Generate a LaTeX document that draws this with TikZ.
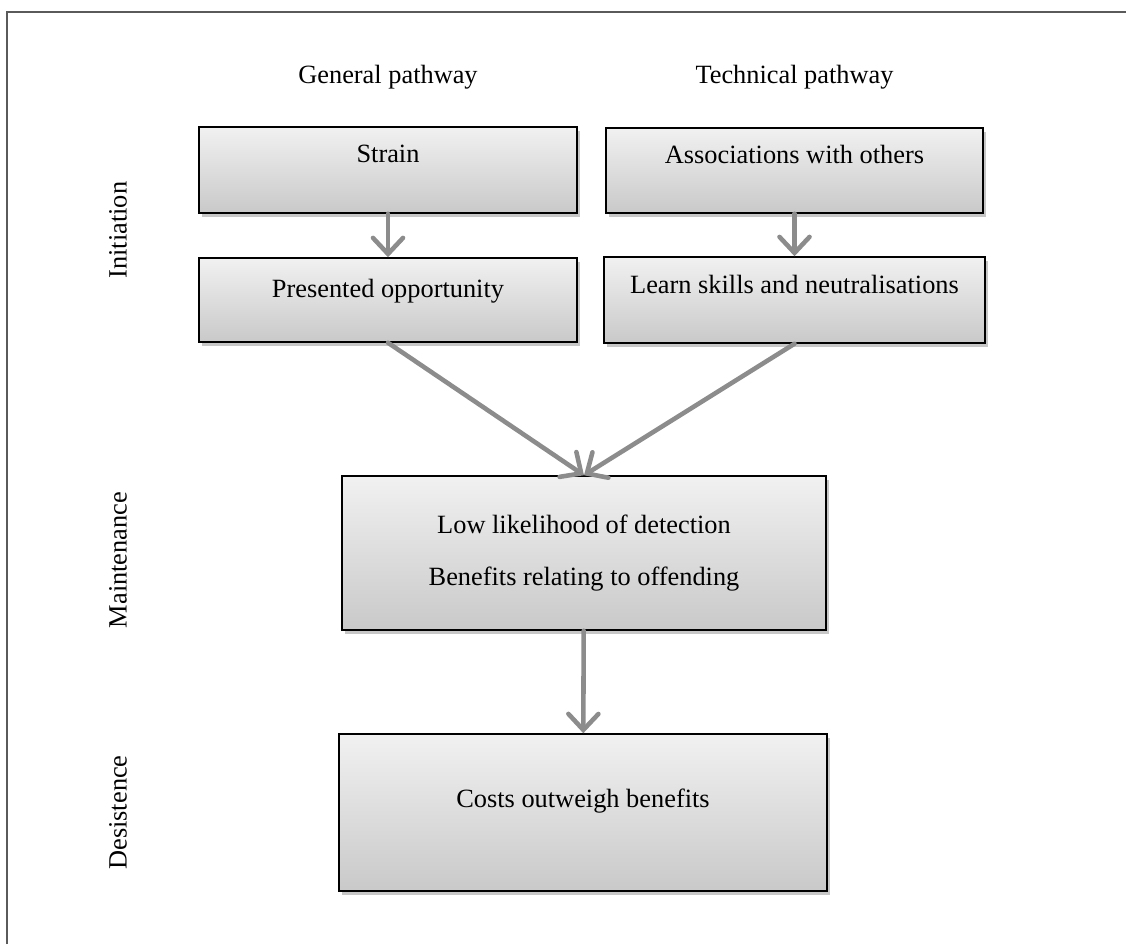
\documentclass[tikz,border=0pt]{standalone}
\usepackage{fontspec}
\setmainfont{Liberation Serif}
\usetikzlibrary{arrows.meta,shadows}
\definecolor{boxtop}{HTML}{F1F1F1}
\definecolor{boxbot}{HTML}{C9C9C9}
\definecolor{arrowgray}{HTML}{8C8C8C}
\definecolor{framegray}{HTML}{5A5A5A}
\begin{document}
\begin{tikzpicture}[
  bx/.style={draw=black,line width=0.85pt,top color=boxtop,bottom color=boxbot,
    drop shadow={shadow xshift=1.6pt,shadow yshift=-2pt,fill=black,opacity=0.22},
    align=center,inner sep=0pt,text height=0.4cm,text depth=#1,
    font=\fontsize{15}{18}\selectfont},
  bx/.default=0.66cm,
  hd/.style={anchor=base,font=\fontsize{15}{18}\selectfont},
  stage/.style={rotate=90,font=\fontsize{15}{18}\selectfont},
  a/.style={-{Straight Barb[length=3.2mm,width=6mm,line cap=round]},line width=2.6pt,
    arrowgray,line cap=round}]
\useasboundingbox (0,0) rectangle (22.52,-18.88);
\draw[framegray,line width=0.045cm] (0.14,-18.88) |- (22.52,-0.24);
\node[hd] (gen) at (7.76,-1.68) {General pathway};
\node[hd] (tech) at (15.89,-1.68) {Technical pathway};
\node[stage] (init) at (2.36,-4.60) {Initiation};
\node[stage] (main) at (2.36,-11.20) {Maintenance};
\node[stage] (desi) at (2.36,-16.25) {Desistence};
\node[bx=0.68cm,minimum width=7.56cm,minimum height=1.72cm] (strain) at (7.76,-3.40) {Strain};
\node[bx=0.52cm,minimum width=7.56cm,minimum height=1.68cm] (opp) at (7.76,-6.00) {Presented opportunity};
\node[bx=0.70cm,minimum width=7.54cm,minimum height=1.70cm] (assoc) at (15.89,-3.41) {Associations with others};
\node[bx=0.68cm,minimum width=7.62cm,minimum height=1.72cm] (learn) at (15.89,-6.00) {Learn skills and neutralisations};
\node[bx,text height={},text depth={},minimum width=9.68cm,minimum height=3.08cm] (lowdet) at (11.68,-11.06)
  {Low likelihood of detection\\[0.4cm]Benefits relating to offending};
\node[bx=0.62cm,minimum width=9.76cm,minimum height=3.14cm] (costs) at (11.66,-16.25) {Costs outweigh benefits};
\draw[a] (strain)--(opp); \draw[a] (assoc)--(learn);
\draw[a] (opp.south)--(lowdet.north); \draw[a] (learn.south)--(lowdet.north);
\draw[a] (lowdet)--(costs);
\end{tikzpicture}
\end{document}
